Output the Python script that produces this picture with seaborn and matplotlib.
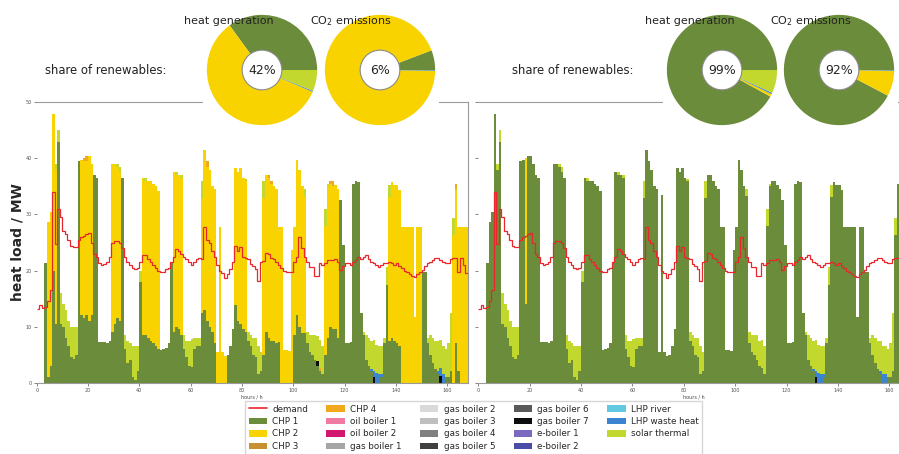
import numpy as np
import pandas as pd
import seaborn as sns
import matplotlib.pyplot as plt
from matplotlib.patches import Patch
from matplotlib.lines import Line2D

# ---------------------------------------------------------------------------
# Data: one week of hourly heat load (MW), two supply scenarios
# ---------------------------------------------------------------------------
hours = np.arange(168)

demand = [
    13.2, 13.8, 13.4, 13.5, 14.5, 16.5, 34.0, 24.7, 31.0, 29.5, 27.0, 26.5,
    25.5, 24.3, 24.2, 24.2, 25.5, 26.0, 26.2, 26.5, 26.7, 25.0, 23.0, 22.5,
    21.3, 21.0, 21.2, 21.5, 22.5, 25.0, 25.3, 25.3, 25.0, 24.0, 22.5, 21.5,
    21.0, 20.5, 20.3, 20.5, 21.5, 22.7, 22.7, 22.0, 21.5, 21.0, 20.5, 20.0,
    19.7, 19.7, 20.2, 20.5, 21.5, 22.5, 23.8, 23.5, 23.0, 22.5, 22.0, 21.5,
    21.0, 21.5, 22.0, 22.3, 22.0, 27.7, 25.5, 25.0, 23.5, 22.5, 21.0, 20.0,
    19.5, 18.7, 19.3, 20.3, 21.5, 24.3, 23.5, 24.2, 22.5, 22.3, 22.0, 21.2,
    20.8, 20.2, 18.2, 21.5, 21.7, 23.2, 23.0, 22.3, 22.0, 21.5, 21.0, 20.5,
    20.0, 19.7, 19.7, 19.8, 21.5, 22.5, 26.0, 24.0, 22.5, 21.5, 20.7, 20.7,
    19.0, 19.0, 21.3, 21.0, 21.3, 21.9, 21.9, 21.9, 22.0, 21.5, 20.1, 20.8,
    21.3, 21.3, 21.0, 21.5, 21.9, 22.5, 22.0, 22.5, 22.8, 22.0, 21.5, 21.3,
    21.0, 20.7, 21.0, 21.3, 21.3, 21.5, 21.3, 21.0, 21.3, 20.8, 20.4, 20.0,
    19.7, 19.4, 19.1, 18.9, 19.3, 19.7, 20.1, 20.8, 21.3, 21.6, 21.9, 22.2,
    22.2, 21.8, 21.5, 21.3, 21.3, 22.0, 22.2, 22.2, 19.8, 22.2, 21.0, 19.6,
]

# scenario A (left panel)
chp1_a = [
    0, 0, 0, 21.3, 1.0, 3.0, 20.0, 10.5, 43.0, 10.5, 10.0, 8.0,
    6.5, 4.5, 4.2, 5.0, 39.5, 12.0, 11.5, 12.0, 11.0, 12.0, 37.0, 36.5,
    7.3, 7.2, 7.3, 7.0, 7.5, 9.0, 10.5, 11.5, 11.0, 36.5, 6.0, 3.5,
    4.0, 1.0, 0.5, 2.0, 18.0, 8.5, 8.5, 8.0, 7.5, 7.0, 6.5, 6.0,
    5.8, 6.0, 6.2, 7.0, 21.5, 9.0, 10.0, 9.5, 8.5, 6.0, 4.5, 3.0,
    2.8, 6.0, 6.5, 6.5, 12.5, 13.0, 11.0, 10.0, 9.0, 7.0, 0, 0,
    0, 0, 5.0, 6.5, 9.5, 13.8, 11.0, 10.5, 9.5, 9.0, 7.5, 6.5,
    5.0, 4.5, 1.5, 2.0, 5.0, 9.0, 8.0, 7.5, 7.5, 7.0, 7.2, 0,
    0, 0, 0, 0, 8.5, 12.0, 10.0, 8.8, 8.8, 7.0, 5.5, 5.0,
    4.0, 3.0, 2.0, 1.5, 5.0, 8.0, 10.0, 9.5, 9.5, 8.0, 32.6, 24.5,
    7.0, 7.0, 7.2, 35.5, 36.0, 35.7, 12.5, 8.5, 4.0, 3.0, 2.0, 0,
    0, 0, 1.0, 7.0, 17.4, 7.5, 8.0, 7.5, 7.0, 6.5, 0, 0,
    0, 0, 0, 0, 0, 0, 19.8, 19.8, 7.0, 5.0, 3.5, 2.5,
    1.5, 0, 0, 1.0, 1.0, 2.0, 0, 7.0, 2.0, 0, 0, 0,
]
chp2_a = [
    0, 0, 0, 0, 27.7, 27.5, 28.0, 27.5, 0, 0, 0, 0,
    0, 0, 0, 0, 0, 27.8, 28.0, 27.5, 29.5, 27.0, 0, 0,
    0, 0, 0, 0, 0, 30.0, 28.5, 27.0, 26.5, 0, 0, 0,
    0, 0, 0, 0, 0, 28.0, 27.5, 28.0, 28.5, 28.5, 28.5, 28.2,
    0, 0, 0, 0, 0, 28.5, 27.0, 27.5, 28.0, 0, 0, 0,
    0, 0, 0, 0, 20.5, 28.5, 27.5, 28.0, 26.0, 27.6, 5.5, 27.7,
    5.5, 4.8, 0, 0, 0, 24.4, 26.6, 27.7, 27.0, 27.0, 0, 0,
    0, 0, 0, 0, 28.0, 28.0, 28.5, 28.0, 27.5, 27.5, 20.6, 27.8,
    5.8, 5.8, 5.6, 23.6, 19.3, 27.7, 28.0, 26.2, 24.5, 0, 0, 0,
    0, 0, 0, 0, 23.0, 27.0, 25.5, 25.5, 25.7, 26.6, 0, 0,
    0, 0, 0, 0, 0, 0, 0, 0, 0, 0, 0, 0,
    0, 0, 0, 0, 0, 25.7, 27.8, 27.7, 28.2, 27.8, 27.8, 27.8,
    27.8, 27.8, 27.8, 11.8, 27.8, 27.8, 0, 0, 0, 0, 0, 0,
    0, 0, 0, 0, 0, 0, 26.3, 27.5, 25.8, 27.8, 27.8, 27.8,
]
solar_a = [
    0, 0, 0, 0, 0, 0, 0, 1.0, 2.0, 5.5, 4.0, 5.0,
    4.5, 5.5, 5.8, 5.0, 0, 0, 0, 0, 0, 0, 0, 0,
    0, 0, 0, 0, 0, 0, 0, 0.5, 1.0, 0, 2.5, 4.0,
    3.0, 5.5, 6.0, 4.5, 2.0, 0, 0.5, 0, 0, 0, 0, 0,
    0, 0, 0, 0, 0, 0, 0.5, 0, 0.5, 2.5, 3.0, 4.5,
    5.0, 2.0, 1.5, 1.5, 3.0, 0, 0, 0, 0, 0, 0, 0,
    0, 0, 0, 0, 0, 0, 0, 0, 0, 0.3, 1.5, 2.0,
    3.0, 3.5, 5.0, 3.5, 3.0, 0, 0, 0, 0, 0, 0, 0,
    0, 0, 0, 0, 0, 0, 0, 0, 1.3, 2.0, 3.0, 3.5,
    4.5, 4.5, 5.0, 5.0, 3.0, 0.5, 0, 0, 0, 0, 0, 0,
    0, 0, 0, 0, 0, 0, 0, 0.5, 4.5, 5.0, 5.0, 5.7,
    5.0, 5.0, 5.0, 1.0, 3.3, 2.0, 0, 0, 0, 0, 0, 0,
    0, 0, 0, 0, 0, 0, 0, 0, 1.0, 3.5, 4.5, 5.0,
    5.5, 5.0, 5.0, 5.0, 6.0, 10.5, 3.0, 0, 0, 0, 0, 0,
]
chp4_a = {18: 0.5, 19: 1.0, 66: 1.0, 90: 0.5, 91: 0.5, 110: 0.6, 114: 0.5, 115: 1.0, 163: 1.0}
lhp_waste_a = {130: 0.5, 131: 1.0, 132: 1.8, 133: 1.5, 134: 0.5, 156: 0.5, 157: 1.5, 158: 1.5}
gas7_a = {109: 0.8, 131: 1.0, 157: 1.2}

# scenario B (right panel)
chp1_b = [
    0, 0, 0, 21.3, 28.7, 30.5, 48.0, 38.0, 43.0, 10.5, 10.0, 8.0,
    6.5, 4.5, 4.2, 5.0, 39.5, 39.8, 14.0, 40.5, 40.5, 39.0, 37.0, 36.5,
    7.3, 7.2, 7.3, 7.0, 7.5, 39.0, 39.0, 38.5, 37.5, 36.5, 6.0, 3.5,
    4.0, 1.0, 0.5, 2.0, 18.0, 36.5, 36.0, 36.0, 36.0, 35.5, 35.0, 34.2,
    5.8, 6.0, 6.2, 7.0, 21.5, 37.5, 37.0, 37.0, 36.5, 6.0, 4.5, 3.0,
    2.8, 6.0, 6.5, 6.5, 33.0, 41.5, 39.5, 38.0, 35.0, 34.6, 5.5, 33.5,
    5.5, 4.8, 5.0, 6.5, 9.5, 38.2, 37.6, 38.2, 36.5, 36.0, 7.5, 6.5,
    5.0, 4.5, 1.5, 2.0, 33.0, 37.0, 37.0, 36.0, 35.0, 34.5, 27.8, 27.8,
    5.8, 5.8, 5.6, 23.6, 27.8, 39.7, 38.0, 35.0, 33.3, 7.0, 5.5, 5.0,
    4.0, 3.0, 2.6, 1.5, 28.0, 35.0, 36.0, 36.0, 35.2, 34.6, 32.6, 24.5,
    7.0, 7.0, 7.2, 35.5, 36.0, 35.7, 12.5, 8.5, 4.0, 3.0, 2.0, 0,
    0, 0, 1.0, 7.0, 17.4, 33.2, 35.8, 35.2, 35.2, 34.3, 27.8, 27.8,
    27.8, 27.8, 27.8, 11.8, 27.8, 27.8, 19.8, 19.8, 7.0, 5.0, 3.5, 2.5,
    1.5, 0, 0, 1.0, 1.0, 2.0, 26.3, 35.5, 27.8, 27.8, 27.8, 27.8,
]
chp2_b = {18: 26.0}
solar_b = solar_a
lhp_waste_b = {130: 0.5, 131: 1.0, 132: 1.8, 133: 1.5, 134: 0.5, 156: 0.5, 157: 1.5, 158: 1.5}
gas7_b = {131: 1.0}

# pie shares (% of total), legend order
pie_keys_heat = ["CHP 1", "CHP 2", "LHP waste heat", "solar thermal"]
pie_keys_co2 = ["CHP 1", "CHP 2", "LHP waste heat"]
heat_a = [35.0, 58.5, 0.3, 6.2]
co2_a = [5.8, 94.0, 0.2]
heat_b = [92.0, 0.8, 0.4, 6.8]
co2_b = [92.3, 7.5, 0.2]
renew_text = ["42%", "6%", "99%", "92%"]

# ---------------------------------------------------------------------------
# Style
# ---------------------------------------------------------------------------
legend_names = ["CHP 1", "CHP 2", "CHP 3", "CHP 4", "oil boiler 1", "oil boiler 2",
                "gas boiler 1", "gas boiler 2", "gas boiler 3", "gas boiler 4",
                "gas boiler 5", "gas boiler 6", "gas boiler 7", "e-boiler 1",
                "e-boiler 2", "LHP river", "LHP waste heat", "solar thermal"]
palette = {
    "CHP 1": "#6b8c3a", "CHP 2": "#f8d300", "CHP 3": "#c89030", "CHP 4": "#f2a81d",
    "oil boiler 1": "#f07aa0", "oil boiler 2": "#d3156e",
    "gas boiler 1": "#a6a6a6", "gas boiler 2": "#d9d9d9", "gas boiler 3": "#bfbfbf",
    "gas boiler 4": "#808080", "gas boiler 5": "#404040", "gas boiler 6": "#595959",
    "gas boiler 7": "#0d0d0d", "e-boiler 1": "#7b68c0", "e-boiler 2": "#4b4ba8",
    "LHP river": "#62c9e0", "LHP waste heat": "#3c84d0", "solar thermal": "#c2d82e",
}
demand_color = "#e8262b"
stack_order = ["CHP 1", "CHP 2", "CHP 4", "gas boiler 7", "LHP waste heat", "solar thermal"]

sns.set_style("white")
plt.rcParams["font.family"] = ["DejaVu Sans"]

W, H = 899, 454
fig = plt.figure(figsize=(W / 100, H / 100), dpi=100)
edges = np.arange(0, 169)


def sparse(d):
    out = np.zeros(len(hours))
    for h, v in d.items():
        out[h] = v
    return out


def long_frame(series):
    rows = []
    for name, vals in series.items():
        for h, v in zip(hours, vals):
            rows.append((h, name, v))
    return pd.DataFrame(rows, columns=["hour", "source", "MW"])


def draw_panel(ax, df, show_ylabels):
    # seaborn stacks the first hue level on top, so feed the order reversed
    sns.histplot(data=df, x="hour", weights="MW", hue="source",
                 hue_order=stack_order[::-1], multiple="stack",
                 binwidth=1, binrange=(0, 168),
                 palette=palette, alpha=1, linewidth=0, legend=False, ax=ax)
    ax.stairs(demand, edges, baseline=None, color=demand_color, linewidth=0.9, zorder=3)
    ax.set_xlim(0, 168)
    ax.set_ylim(0, 50)
    ax.set_xticks(range(0, 161, 20))
    ax.set_yticks(range(0, 51, 10))
    ax.set_xlabel("hours / h", fontsize=3.5, labelpad=1.5, color="#444444")
    ax.set_ylabel("")
    ax.tick_params(labelsize=3.5, colors="#555555", length=2, width=0.5, pad=1.5,
                   left=True, bottom=True)
    if not show_ylabels:
        ax.tick_params(labelleft=False)
    for side in ["top", "right", "bottom"]:
        ax.spines[side].set_color("#9a9a9a")
        ax.spines[side].set_linewidth(0.8)
    ax.spines["left"].set_visible(False)


df_a = long_frame({"CHP 1": chp1_a, "CHP 2": chp2_a, "CHP 4": sparse(chp4_a),
                   "gas boiler 7": sparse(gas7_a), "LHP waste heat": sparse(lhp_waste_a),
                   "solar thermal": solar_a})
df_b = long_frame({"CHP 1": chp1_b, "CHP 2": sparse(chp2_b), "CHP 4": sparse({}),
                   "gas boiler 7": sparse(gas7_b), "LHP waste heat": sparse(lhp_waste_b),
                   "solar thermal": solar_b})

ax_left = fig.add_axes([36.7 / W, 1 - 382.7 / H, 431 / W, 280.4 / H])
ax_right = fig.add_axes([478.3 / W, 1 - 382.7 / H, 431.6 / W, 280.4 / H])
draw_panel(ax_left, df_a, True)
draw_panel(ax_right, df_b, False)

fig.text(18 / W, 1 - 242 / H, "heat load / MW", rotation=90, ha="center", va="center",
         fontsize=10, fontweight="bold")


def add_pie(cx, keys, values, label):
    box = 118
    pax = fig.add_axes([(cx - box / 2) / W, 1 - (70 + box / 2) / H, box / W, box / H])
    pax.pie(values, colors=[palette[k] for k in keys], startangle=0, counterclock=True,
            wedgeprops=dict(linewidth=0))
    pax.add_patch(plt.Circle((0, 0), 0.36, facecolor="white", edgecolor="#8a8a8a",
                             linewidth=0.8, zorder=5))
    pax.text(0, 0, label, ha="center", va="center", fontsize=9, zorder=6)
    pax.set_frame_on(True)
    pax.set_facecolor("white")
    for s in pax.spines.values():
        s.set_visible(False)
    pax.set_xticks([])
    pax.set_yticks([])
    pax.set_aspect("equal")
    pax.set_xlim(-1.07, 1.07)
    pax.set_ylim(-1.07, 1.07)


add_pie(262, pie_keys_heat, heat_a, renew_text[0])
add_pie(380, pie_keys_co2, co2_a, renew_text[1])
add_pie(722, pie_keys_heat, heat_b, renew_text[2])
add_pie(839, pie_keys_co2, co2_b, renew_text[3])

for x, txt in [(229, "heat generation"), (351, "CO$_2$ emissions"),
               (690, "heat generation"), (811, "CO$_2$ emissions")]:
    fig.text(x / W, 1 - 24 / H, txt, ha="center", va="baseline", fontsize=8, color="#222222")
for x in [45, 512]:
    fig.text(x / W, 1 - 70 / H, "share of renewables:", ha="left", va="center",
             fontsize=8.4, color="#222222")

# legend
handles = [Line2D([0], [0], color=demand_color, linewidth=1.2)]
handles += [Patch(facecolor=palette[n], edgecolor="none") for n in legend_names]
labels = ["demand"] + legend_names
fig.legend(handles, labels, ncol=5, loc="upper left",
           bbox_to_anchor=(245 / W, 1 - 401 / H), fontsize=6.3, frameon=True,
           fancybox=False, edgecolor="#cccccc", handlelength=2.1, handletextpad=0.6,
           columnspacing=2.1, labelspacing=0.4, borderpad=0.4, borderaxespad=0)

fig.savefig("out.png", dpi=100)
